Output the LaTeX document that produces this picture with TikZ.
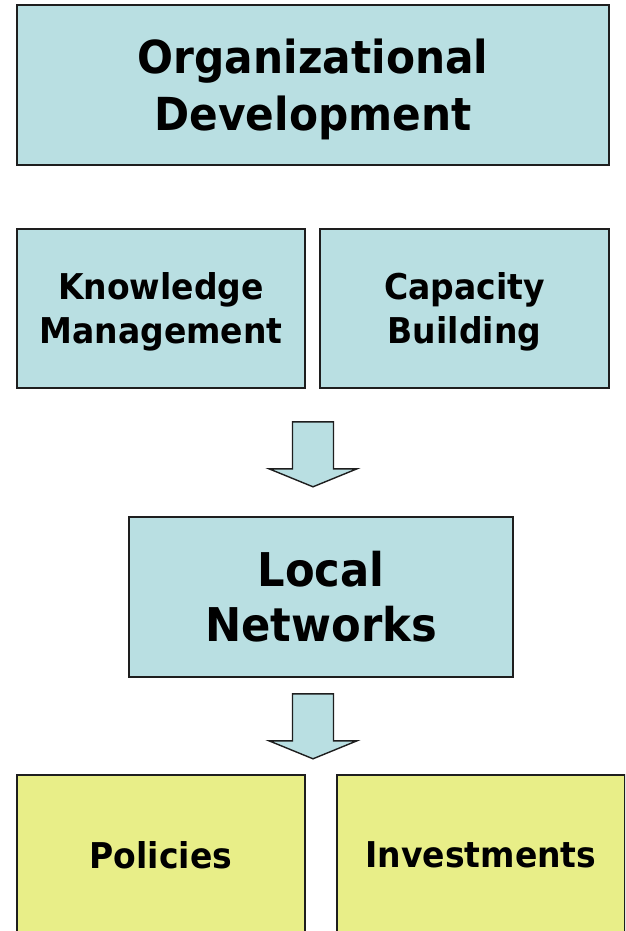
\documentclass[tikz,border=0pt]{standalone}
\usepackage{fontspec}
\setmainfont[FakeStretch=0.93]{DejaVu Sans}
\usetikzlibrary{calc}
\definecolor{boxblue}{HTML}{B9DFE2}
\definecolor{boxyellow}{HTML}{E8EE88}
\definecolor{edge}{HTML}{1E1E1E}
\tikzset{
  card/.style={draw=edge, line width=1.6pt, rectangle, inner sep=0pt, align=center, font=\bfseries},
  bluecard/.style={card, fill=boxblue},
  yellowcard/.style={card, fill=boxyellow},
  bigtext/.style={font=\bfseries\fontsize{45.5}{57}\selectfont},
  midtext/.style={font=\bfseries\fontsize{35.5}{44}\selectfont},
  blockarrow/.style={draw=edge, line width=1.4pt, fill=boxblue, line join=miter},
}
\begin{document}
\begin{tikzpicture}[x=1pt,y=-1pt]
\clip (0,0) rectangle (625,931);
\fill[white] (0,0) rectangle (625,931);
\node[bluecard, bigtext, text depth=0pt, minimum width=592pt, minimum height=160pt] (org) at (313,85) {Organizational\\Development};
\node[bluecard, midtext, text depth=0pt, minimum width=288pt, minimum height=159pt] (km) at (161,308.5) {Knowledge\\Management};
\node[bluecard, midtext, text depth=0pt, minimum width=289pt, minimum height=159pt] (cb) at (464.5,308.5) {Capacity\\Building};
\node[bluecard, bigtext, minimum width=384pt, minimum height=160pt, font=\bfseries\fontsize{46.5}{55}\selectfont] (ln) at (321,597) {Local\\Networks};
\node[yellowcard, midtext, minimum width=288pt, minimum height=160pt] (pol) at (161,855) {Policies};
\node[yellowcard, midtext, minimum width=288pt, minimum height=160pt] (inv) at (481,855) {Investments};
% block arrows
\coordinate (a1) at ($(km.south -| org.south)+(0,33)$);
\coordinate (a2) at ($(ln.south -| org.south)+(0,16)$);
\foreach \c in {a1,a2}{
  \draw[blockarrow] ($(\c)+(-20.5,0)$) -- ($(\c)+(20.5,0)$) -- ($(\c)+(20.5,47)$) -- ($(\c)+(44,47)$)
     -- ($(\c)+(0,65)$) -- ($(\c)+(-44,47)$) -- ($(\c)+(-20.5,47)$) -- cycle;
}
\end{tikzpicture}
\end{document}
